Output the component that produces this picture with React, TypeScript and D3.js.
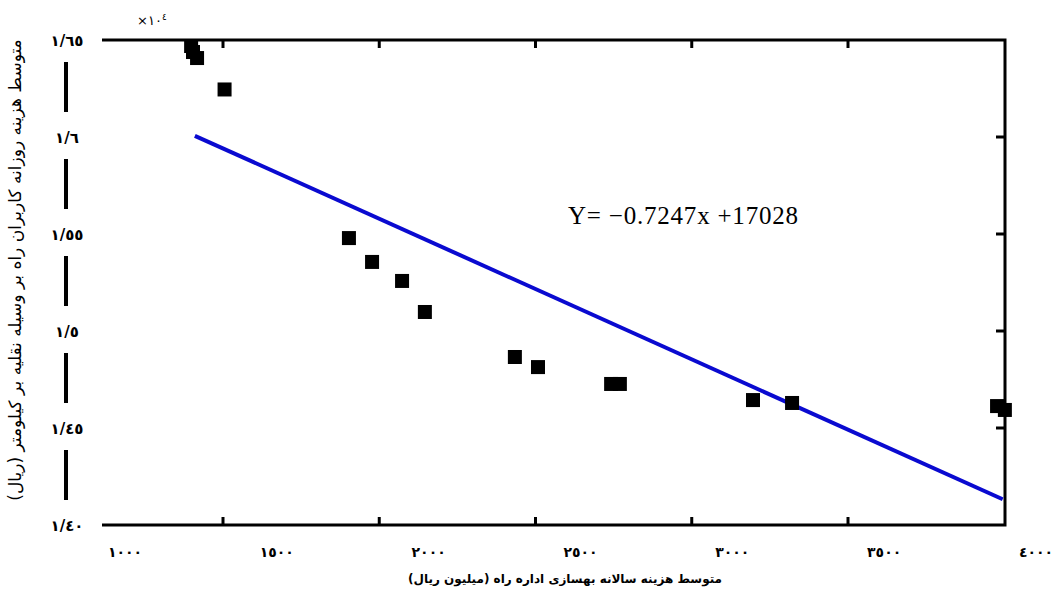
import React from "react";
import * as d3 from "d3";

// values
const pointX = [1398, 1404, 1417, 1505, 1903, 1977, 2073, 2146, 2434, 2508, 2742, 2770, 3196, 3321, 3977, 4002];
const pointY = [16469, 16438, 16407, 16245, 15479, 15356, 15258, 15098, 14866, 14814, 14727, 14727, 14644, 14629, 14613, 14593];

// fitted line Y = -0.7247x + 17028
const slope = -0.7247;
const intercept = 17028;
const lineX = [1410, 3995];

const xTicks = [1500, 2000, 2500, 3000, 3500];
const xLabelValues = [1000, 1500, 2000, 2500, 3000, 3500, 4000];
const xLabels = ["١٠٠٠", "١٥٠٠", "٢٠٠٠", "٢٥٠٠", "٣٠٠٠", "٣٥٠٠", "٤٠٠٠"];
const yTicks = [16500, 16000, 15500, 15000, 14500, 14000];
const yLabels = ["١/٦٥", "١/٦", "١/٥٥", "١/٥", "١/٤٥", "١/٤٠"];

const W = 1056;
const H = 590;
const frameLeft = 102;
const frameRight = 1005;
const top = 40;
const bottom = 525;

const App = () => {
  const x = d3.scaleLinear().domain([1000, 4000]).range([66.75, 1004.25]);
  const y = d3.scaleLinear().domain([14000, 16500]).range([bottom, top]);
  // the tick labels do not sit under the ticks in the original
  const xLab = d3.scaleLinear().domain([1000, 4000]).range([125, 1036]);

  const fit = d3
    .line<number>()
    .x((d) => x(d))
    .y((d) => y(slope * d + intercept));

  const arabic = "'DejaVu Sans', sans-serif";
  const sq = 14;

  return (
    <svg width={W} height={H} style={{ position: "absolute", left: 0, top: 0, background: "#fff" }}>
      {/* frame: top, right, bottom */}
      <path
        d={`M${frameLeft},${top} H${frameRight} V${bottom} H${frameLeft}`}
        fill="none"
        stroke="#000"
        strokeWidth={3}
      />
      {xTicks.map((t) => (
        <g key={"xt" + t}>
          <line x1={x(t)} x2={x(t)} y1={top} y2={top + 8} stroke="#000" strokeWidth={3} />
          <line x1={x(t)} x2={x(t)} y1={bottom} y2={bottom - 8} stroke="#000" strokeWidth={3} />
        </g>
      ))}
      {yTicks.slice(1, -1).map((t) => (
        <line key={"yt" + t} x1={frameRight} x2={frameRight - 9} y1={y(t)} y2={y(t)} stroke="#000" strokeWidth={3} />
      ))}

      {/* broken left axis */}
      {yTicks.slice(0, -1).map((t, i) => (
        <line
          key={"seg" + t}
          x1={66}
          x2={66}
          y1={y(t) + 22}
          y2={y(yTicks[i + 1]) - 25}
          stroke="#000"
          strokeWidth={4}
        />
      ))}
      {yTicks.map((t, i) => (
        <text
          key={"yl" + t}
          x={67}
          y={y(t) + 6}
          textAnchor="middle"
          fontFamily={arabic}
          fontSize={15}
          fontWeight="bold"
          direction="ltr"
        >
          {yLabels[i]}
        </text>
      ))}
      {xLabelValues.map((t, i) => (
        <text
          key={"xl" + t}
          x={xLab(t)}
          y={557}
          textAnchor="middle"
          fontFamily={arabic}
          fontSize={14}
          fontWeight="bold"
          letterSpacing={1.5}
          direction="ltr"
        >
          {xLabels[i]}
        </text>
      ))}

      <text x={137} y={25} fontFamily={arabic} fontSize={13} direction="ltr">
        ×١٠<tspan dy={-5} fontSize={9}>٤</tspan>
      </text>

      {/* fit line */}
      <path d={fit(lineX) ?? ""} fill="none" stroke="#0a0ad0" strokeWidth={4} />

      {/* points */}
      {pointX.map((px, i) => (
        <rect
          key={"p" + i}
          x={x(px) - sq / 2}
          y={y(pointY[i]) - sq / 2}
          width={sq}
          height={sq}
          fill="#000"
        />
      ))}

      <text x={568} y={224} fontFamily="'Liberation Serif', serif" fontSize={25} textLength={230}>
        Y= −0.7247x +17028
      </text>

      <text
        transform="translate(21,270) rotate(-90)"
        textAnchor="middle"
        fontFamily={arabic}
        fontSize={17}
        direction="rtl"
      >
        متوسط هزینه روزانه کاربران راه بر وسیله نقلیه بر کیلومتر (ریال)
      </text>
      <text
        x={565}
        y={583}
        textAnchor="middle"
        fontFamily={arabic}
        fontSize={12}
        fontWeight="bold"
        direction="rtl"
      >
        متوسط هزینه سالانه بهسازی اداره راه (میلیون ریال)
      </text>
    </svg>
  );
};

export default App;
